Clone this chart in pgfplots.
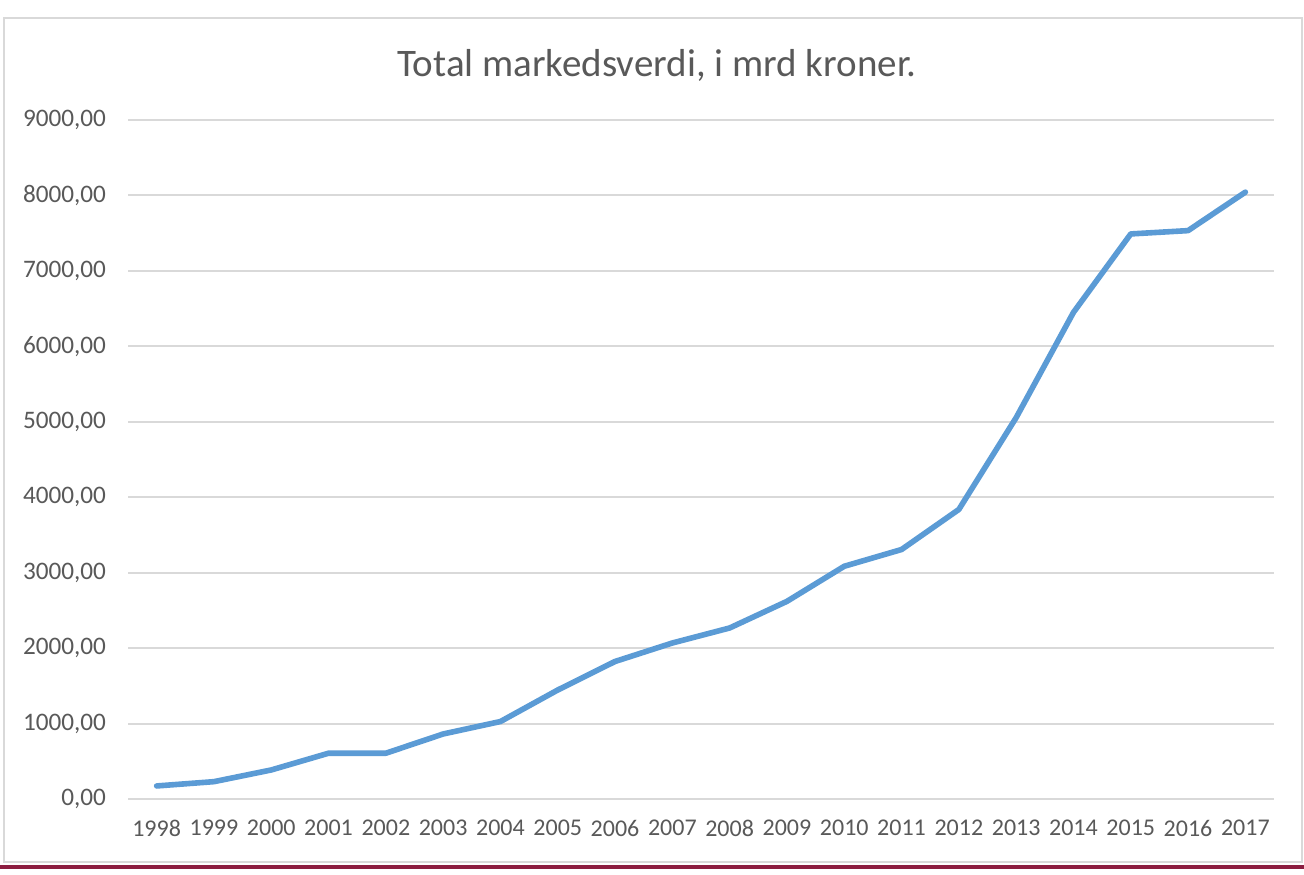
\documentclass[border=0pt]{standalone}
\usepackage{fontspec}
\setmainfont{Carlito}
\usepackage{pgfplots}
\pgfplotsset{compat=1.18}
\definecolor{linec}{HTML}{5B9BD5}
\definecolor{gridc}{HTML}{D9D9D9}
\definecolor{textc}{HTML}{595959}
\definecolor{redc}{HTML}{8C1D40}
\begin{document}
\begin{tikzpicture}[x=1pt,y=1pt]
\fill[white] (0,0) rectangle (652,437);
\draw[gridc, line width=1pt] (2,6) rectangle (651,428.2);
\fill[redc] (0,2.5) rectangle (652,4.5);
\begin{axis}[
  at={(64pt,37.5pt)}, anchor=south west,
  scale only axis, width=573pt, height=339.5pt,
  xmin=-0.5, xmax=19.5, ymin=0, ymax=9000,
  axis line style={draw=none},
  major tick length=0pt,
  xtick={0,...,19},
  xticklabels={1998,1999,2000,2001,2002,2003,2004,2005,2006,2007,2008,2009,2010,2011,2012,2013,2014,2015,2016,2017},
  ytick={0,1000,...,9000},
  ymajorgrids, grid style={gridc, line width=1pt},
  tick label style={textc},
  xticklabel style={yshift=-7pt, font=\fontsize{12}{14}\selectfont},
  yticklabel style={xshift=-7.5pt, font=\fontsize{12.6}{14}\selectfont},
  /pgf/number format/.cd, fixed, fixed zerofill, precision=2, use comma, 1000 sep={}, assume math mode=true,
]
\addplot[linec, line width=2.8pt, line join=round, line cap=round] coordinates {
(0,173) (1,230) (2,385) (3,607) (4,607) (5,862) (6,1027) (7,1445) (8,1823) (9,2068)
(10,2267) (11,2620) (12,3085) (13,3307) (14,3838) (15,5055) (16,6450) (17,7490) (18,7534) (19,8044)
};
\end{axis}
\node[textc, font=\fontsize{19.5}{23}\selectfont] at (328.5,404.5) {Total markedsverdi, i mrd kroner.};
\end{tikzpicture}
\end{document}
